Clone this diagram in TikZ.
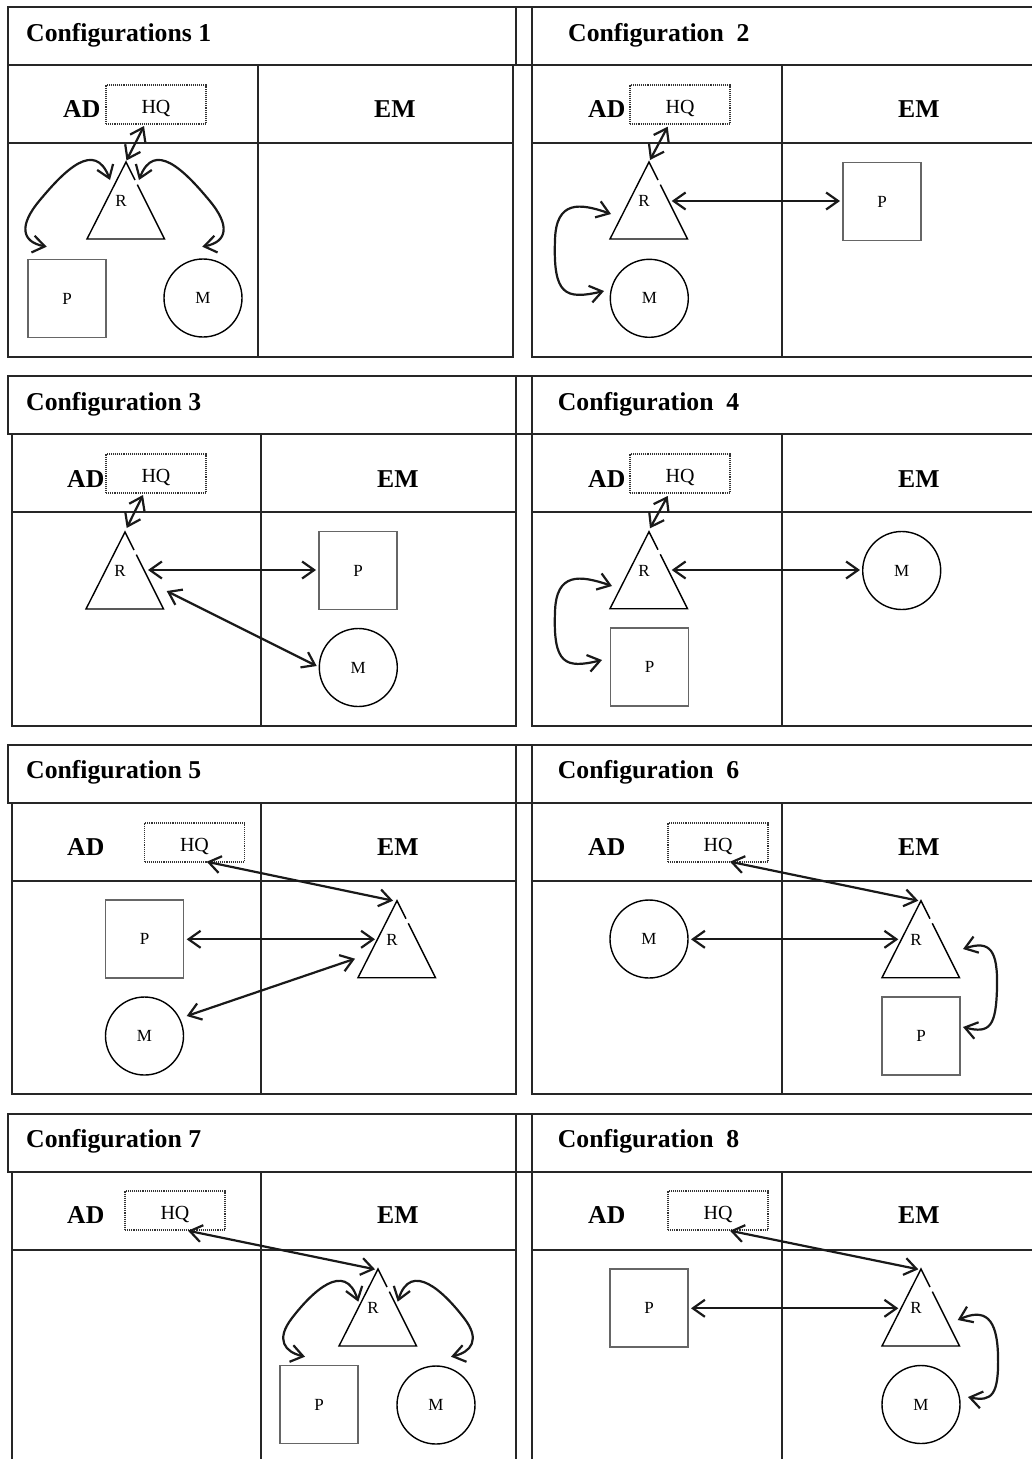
\documentclass[tikz,border=0pt]{standalone}
\usepackage{fontspec}
\setmainfont{Liberation Serif}
\usetikzlibrary{arrows.meta,calc}
\tikzset{
 frame/.style={draw=black!85, line width=1.7pt},
 ttl/.style={anchor=base west, inner sep=0pt, font=\fontsize{25.7}{30}\selectfont\bfseries},
 hq/.style={draw=black!80, densely dotted, line width=1.1pt, minimum width=100pt, minimum height=39pt, inner sep=0pt},
 hqtxt/.style={inner sep=0pt, font=\fontsize{20}{24}\selectfont, text height=13.2pt, text depth=0pt},
 psq/.style={draw=black!60, line width=1.5pt, minimum size=78pt, inner sep=0pt, font=\fontsize{17}{20}\selectfont, text height=11.3pt, text depth=0pt},
 mcirc/.style={circle, draw=black, line width=1.4pt, minimum size=78pt, inner sep=0pt, font=\fontsize{17}{20}\selectfont, text height=11.3pt, text depth=0pt},
 tri/.style={draw=black, line width=1.4pt},
 rtxt/.style={inner sep=0pt, font=\fontsize{17}{20}\selectfont, text height=11.3pt, text depth=0pt},
 arr/.style={line width=2.2pt, draw=black!90, >={Straight Barb[length=12pt,width=17pt]}, <->},
}
\newcommand\HQbox[3]{\node[hq] (HQ#1) at (#2,#3) {}; \node[hqtxt] (HQt#1) at (#2,#3+2.5) {HQ};}
\newcommand\Rtri[3]{\coordinate (R#1) at (#2,#3);
 \draw[tri] ($(R#1)+(9,18)$) -- (R#1) -- ($(R#1)+(-39,77)$) -- ($(R#1)+(38.5,77)$) -- ($(R#1)+(11.3,22.6)$);
 \node[rtxt] (Rt#1) at ($(R#1)+(-5,39)$) {R};}
\newcommand\Frame[6]{%
 \draw[frame] (8,#1) rectangle (1040,#1+58);
 \draw[frame] (516,#1) -- (516,#1+58) (532,#1) -- (532,#1+58);
 \draw[frame] (#4,#1+58) rectangle (#5,#3);
 \draw[frame] (#6,#1+58) -- (#6,#3) (#4,#2) -- (#5,#2);
 \draw[frame] (532,#1+58) rectangle (1040,#3);
 \draw[frame] (782,#1+58) -- (782,#3) (532,#2) -- (1040,#2);
}
\begin{document}
\begin{tikzpicture}[x=1pt,y=-1pt]
\fill[white] (0,0) rectangle (1031,1459);
\useasboundingbox (0,0) rectangle (1031,1459);
% frames
\Frame{7}{143}{357}{8}{513}{258}
\Frame{376}{512}{726}{12}{516}{261}
\Frame{745}{881}{1094}{12}{516}{261}
\Frame{1114}{1250}{1475}{12}{516}{261}
% titles
\node[ttl] (T1) at (26,41) {Configurations 1};
\node[ttl] (T2) at (568,41) {Configuration\ \ 2};
\node[ttl] (T3) at (26,410) {Configuration 3};
\node[ttl] (T4) at (557.7,410) {Configuration\ \ 4};
\node[ttl] (T5) at (26,778) {Configuration 5};
\node[ttl] (T6) at (557.7,778) {Configuration\ \ 6};
\node[ttl] (T7) at (26,1147) {Configuration 7};
\node[ttl] (T8) at (557.7,1147) {Configuration\ \ 8};
% AD / EM
\node[ttl] (AD1) at (63,117) {AD};   \node[ttl] (EM1) at (374,117) {EM};
\node[ttl] (AD2) at (588,117) {AD};  \node[ttl] (EM2) at (898,117) {EM};
\node[ttl] (AD3) at (67,487) {AD};   \node[ttl] (EM3) at (377,487) {EM};
\node[ttl] (AD4) at (588,487) {AD};  \node[ttl] (EM4) at (898,487) {EM};
\node[ttl] (AD5) at (67,855) {AD};   \node[ttl] (EM5) at (377,855) {EM};
\node[ttl] (AD6) at (588,855) {AD};  \node[ttl] (EM6) at (898,855) {EM};
\node[ttl] (AD7) at (67,1223) {AD};  \node[ttl] (EM7) at (377,1223) {EM};
\node[ttl] (AD8) at (588,1223) {AD}; \node[ttl] (EM8) at (898,1223) {EM};
% HQ boxes
\HQbox{1}{156}{104.5}
\HQbox{2}{680}{104.5}
\HQbox{3}{156}{473.5}
\HQbox{4}{680}{473.5}
\HQbox{5}{194.5}{842.5}
\HQbox{6}{718}{842.5}
\HQbox{7}{175}{1210.5}
\HQbox{8}{718}{1210.5}
% triangles R
\Rtri{1}{126}{162}
\Rtri{2}{649}{162}
\Rtri{3}{125}{532}
\Rtri{4}{649}{531.7}
\Rtri{5}{397}{900.7}
\Rtri{6}{921}{900.7}
\Rtri{7}{378}{1269}
\Rtri{8}{921}{1269}
% P squares
\node[psq] (P1) at (67,298.5) {P};
\node[psq] (P2) at (882,201.7) {P};
\node[psq] (P3) at (358,570.5) {P};
\node[psq] (P4) at (649.5,667) {P};
\node[psq] (P5) at (144.5,939) {P};
\node[psq] (P6) at (921,1036) {P};
\node[psq] (P7) at (319,1404.5) {P};
\node[psq] (P8) at (649,1308) {P};
% M circles
\node[mcirc] (M1) at (203,298) {M};
\node[mcirc] (M2) at (649.3,298.3) {M};
\node[mcirc] (M3) at (358.3,667.5) {M};
\node[mcirc] (M4) at (901.7,570.5) {M};
\node[mcirc] (M5) at (144.5,1036) {M};
\node[mcirc] (M6) at (649,939) {M};
\node[mcirc] (M7) at (436,1405) {M};
\node[mcirc] (M8) at (921,1404.5) {M};
% ---- arrows: configuration 1
\coordinate (c1hq) at (144,126); \coordinate (c1rt) at (126.5,160.5);
\draw[arr] (c1hq) -- (c1rt);
\coordinate (c1rl) at (110,180); \coordinate (c1p) at (46.7,246.7);
\draw[arr] (c1p) .. controls (22,242) and (18,226) .. (40,200) .. controls (65,170) and (95,140) .. (c1rl);
\coordinate (c1rr) at (139,180); \coordinate (c1m) at (202.3,246.7);
\draw[arr] (c1m) .. controls (227,242) and (231,226) .. (209,200) .. controls (184,170) and (154,140) .. (c1rr);
% configuration 2
\coordinate (c2hq) at (667.7,126.7); \coordinate (c2rt) at (650,160);
\draw[arr] (c2hq) -- (c2rt);
\coordinate (c2rr) at (671.7,201); \coordinate (c2p) at (840,201);
\draw[arr] (c2rr) -- (c2p);
\coordinate (c2rl) at (611,214); \coordinate (c2m) at (604,291);
\draw[arr] (c2rl) .. controls (580,203) and (556,200) .. (555,240) .. controls (553,295) and (565,300) .. (c2m);
% configuration 3
\coordinate (c3hq) at (143,495); \coordinate (c3rt) at (126.7,528);
\draw[arr] (c3hq) -- (c3rt);
\coordinate (c3rr) at (148,570); \coordinate (c3p) at (316,570);
\draw[arr] (c3rr) -- (c3p);
\coordinate (c3rb) at (166.7,591); \coordinate (c3m) at (316.7,666);
\draw[arr] (c3rb) -- (c3m);
% configuration 4
\coordinate (c4hq) at (667.7,496); \coordinate (c4rt) at (650,528.3);
\draw[arr] (c4hq) -- (c4rt);
\coordinate (c4rr) at (671.7,570); \coordinate (c4m) at (860,570);
\draw[arr] (c4rr) -- (c4m);
\coordinate (c4rl) at (612,586); \coordinate (c4p) at (602,660);
\draw[arr] (c4rl) .. controls (580,575) and (556,572) .. (555,612) .. controls (553,664) and (565,669) .. (c4p);
% configuration 5
\coordinate (c5hq) at (206.7,861.7); \coordinate (c5rt) at (393,900.7);
\draw[arr] (c5hq) -- (c5rt);
\coordinate (c5p) at (186.7,939.3); \coordinate (c5rl) at (375,939.3);
\draw[arr] (c5p) -- (c5rl);
\coordinate (c5m) at (186.7,1016); \coordinate (c5rb) at (355,958.7);
\draw[arr] (c5m) -- (c5rb);
% configuration 6
\coordinate (c6hq) at (730,861.7); \coordinate (c6rt) at (918.3,900.7);
\draw[arr] (c6hq) -- (c6rt);
\coordinate (c6m) at (691,939.3); \coordinate (c6rl) at (898.3,939.3);
\draw[arr] (c6m) -- (c6rl);
\coordinate (c6rr) at (963,949); \coordinate (c6p) at (963,1027);
\draw[arr] (c6rr) .. controls (990,940) and (998,950) .. (997,988) .. controls (996,1026) and (990,1034) .. (c6p);
% configuration 7
\coordinate (c7hq) at (188,1230.7); \coordinate (c7rt) at (375,1269.3);
\draw[arr] (c7hq) -- (c7rt);
\coordinate (c7rl) at (358.3,1301.7); \coordinate (c7p) at (305,1356.7);
\draw[arr] (c7p) .. controls (285,1352) and (275,1340) .. (292,1318) .. controls (312,1292) and (345,1260) .. (c7rl);
\coordinate (c7rr) at (397.7,1301.7); \coordinate (c7m) at (451,1356.7);
\draw[arr] (c7m) .. controls (471,1352) and (481,1340) .. (464,1318) .. controls (444,1292) and (411,1260) .. (c7rr);
% configuration 8
\coordinate (c8hq) at (730,1230.7); \coordinate (c8rt) at (918.3,1269.3);
\draw[arr] (c8hq) -- (c8rt);
\coordinate (c8p) at (691,1308.3); \coordinate (c8rl) at (898.3,1308.3);
\draw[arr] (c8p) -- (c8rl);
\coordinate (c8rr) at (957.7,1320); \coordinate (c8m) at (968,1397);
\draw[arr] (c8rr) .. controls (985,1308) and (997,1318) .. (998,1355) .. controls (999,1395) and (992,1402) .. (c8m);
\end{tikzpicture}
\end{document}
